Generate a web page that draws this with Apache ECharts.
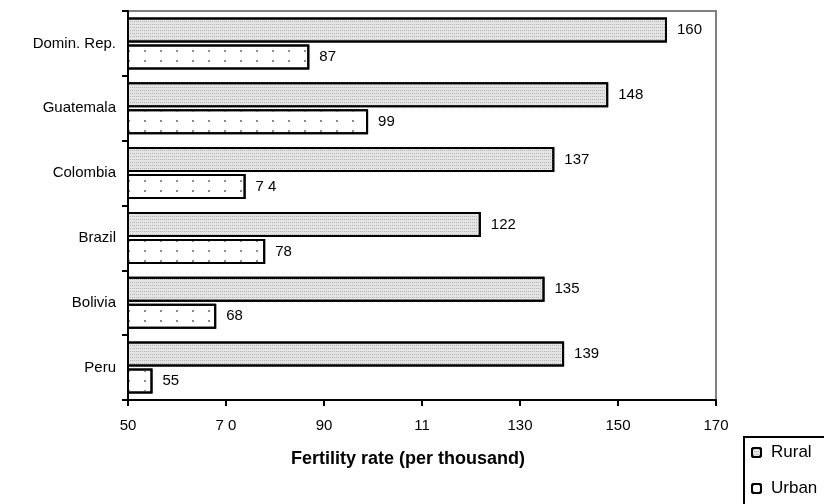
<!DOCTYPE html>
<html>
<head>
<meta charset="utf-8">
<script src="https://cdn.jsdelivr.net/npm/echarts@6/dist/echarts.min.js"></script>
<style>
html,body{margin:0;padding:0;background:#fff;}
#chart{width:824px;height:504px;}
</style>
</head>
<body>
<div id="chart"></div>
<script>
const categories = ['Peru', 'Bolivia', 'Brazil', 'Colombia', 'Guatemala', 'Domin. Rep.'];
const ruralValues = [139, 135, 122, 137, 148, 160];
const urbanValues = [55, 68, 78, 74, 99, 87];
const urbanLabels = ['55', '68', '78', '7 4', '99', '87'];
const xTickLabels = ['50', '7 0', '90', '11', '130', '150', '170'];
const xMin = 50, xMax = 170, xStep = 20;

const FONT = '"Liberation Sans", Arial, sans-serif';
const chart = echarts.init(document.getElementById('chart'), null, {renderer: 'canvas'});

const legendText = {fontFamily: FONT, fontSize: 17, color: '#000', padding: [0, 0, 0, 5]};
const option = {
  animation: false,
  backgroundColor: '#ffffff',
  aria: {enabled: true, decal: {show: true}},
  grid: {
    left: 128, right: 108, top: 11, bottom: 104,
    show: true, borderColor: '#808080', borderWidth: 2, backgroundColor: 'transparent'
  },
  xAxis: {
    type: 'value', min: xMin, max: xMax, interval: xStep,
    axisLine: {show: true, lineStyle: {color: '#000', width: 2}},
    axisTick: {show: true, length: 6, lineStyle: {color: '#000', width: 2}},
    splitLine: {show: false},
    axisLabel: {
      fontFamily: FONT, fontSize: 15, color: '#000', margin: 18,
      formatter: v => xTickLabels[Math.round((v - xMin) / xStep)]
    }
  },
  yAxis: {
    type: 'category', data: categories,
    axisLine: {show: true, lineStyle: {color: '#000', width: 2}},
    axisTick: {show: true, length: 6, lineStyle: {color: '#000', width: 2}},
    splitLine: {show: false},
    axisLabel: {fontFamily: FONT, fontSize: 15, color: '#000', margin: 12}
  },
  legend: [
    {left: 751, top: 444, itemWidth: 9, itemHeight: 9, data: ['Rural'], textStyle: legendText, padding: 0},
    {left: 751, top: 480, itemWidth: 9, itemHeight: 9, data: ['Urban'], textStyle: legendText, padding: 0}
  ],
  graphic: [
    {
      type: 'rect', shape: {x: 744, y: 437, width: 200, height: 120},
      style: {fill: 'none', stroke: '#000', lineWidth: 2}, z: 10
    },
    {
      type: 'text', x: 408, y: 459,
      style: {text: 'Fertility rate (per thousand)', font: 'bold 18px ' + FONT,
              fill: '#000', textAlign: 'center', textVerticalAlign: 'middle'}
    }
  ],
  series: [
    {
      name: 'Rural', type: 'bar', data: ruralValues,
      barWidth: 25, barGap: '8%',
      itemStyle: {
        color: '#e4e4e4', borderColor: '#000', borderWidth: 2,
        decal: {symbol: 'rect', symbolSize: 1, color: '#b4b4b4',
                dashArrayX: [1, 1], dashArrayY: [1, 2], rotation: 0}
      },
      label: {
        show: true, position: 'right', distance: 10,
        fontFamily: FONT, fontSize: 15, color: '#000'
      }
    },
    {
      name: 'Urban', type: 'bar', data: urbanValues,
      barWidth: 25, barGap: '8%',
      itemStyle: {
        color: '#ffffff', borderColor: '#000', borderWidth: 2,
        decal: {symbol: 'rect', symbolSize: 1, color: '#8a8a8a',
                dashArrayX: [2, 14], dashArrayY: [2, 8], rotation: 0}
      },
      label: {
        show: true, position: 'right', distance: 10,
        fontFamily: FONT, fontSize: 15, color: '#000',
        formatter: p => urbanLabels[p.dataIndex]
      }
    }
  ]
};
chart.setOption(option);
</script>
</body>
</html>
